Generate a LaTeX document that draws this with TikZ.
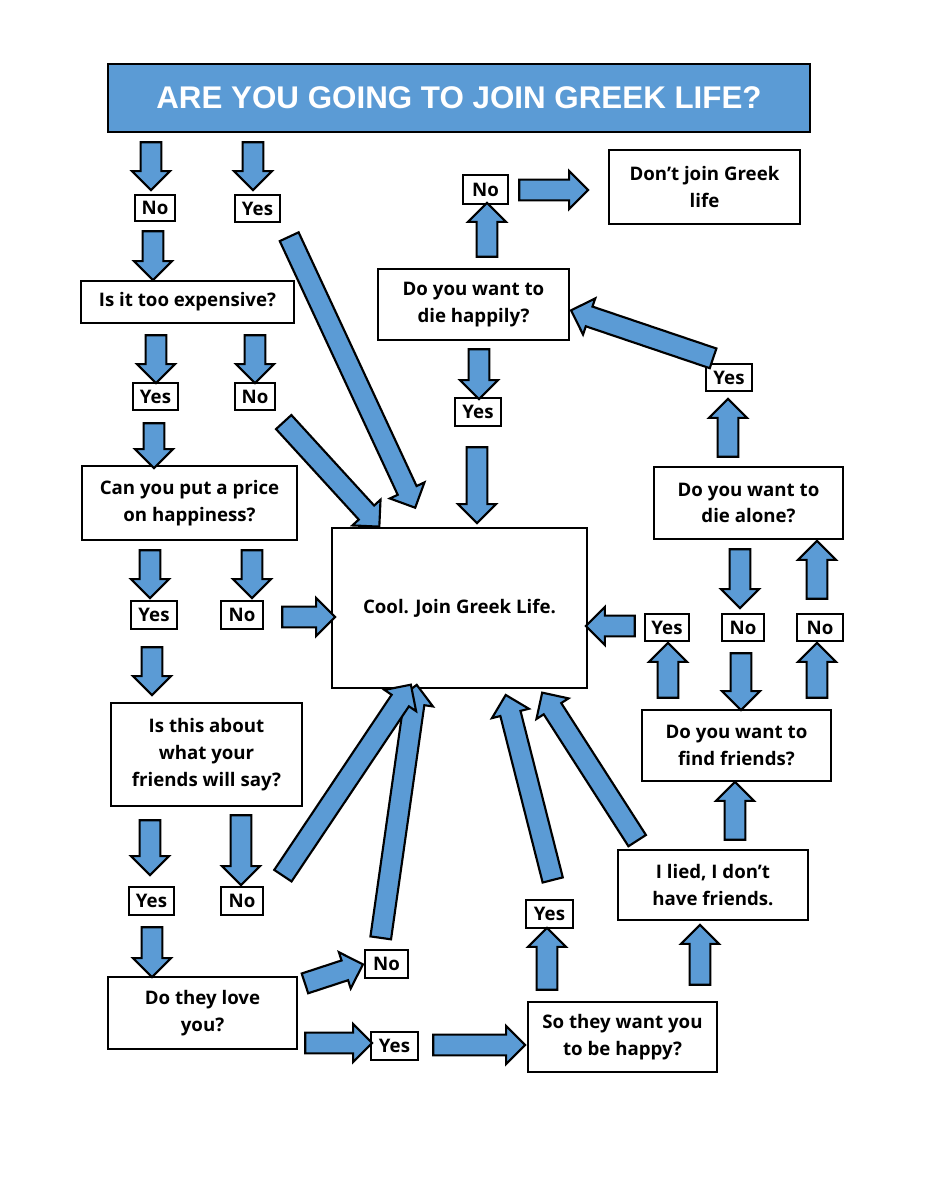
\documentclass[tikz,border=0pt]{standalone}
\usepackage{fontspec}
\setmainfont{Open Sans}
\newfontfamily\titlefont{Liberation Sans}
\usetikzlibrary{shapes.arrows,calc}
\definecolor{gblue}{HTML}{5B9BD5}
\tikzset{
  box/.style={draw=black,line width=2pt,fill=white,align=center,font=\bfseries\fontsize{14}{20}\selectfont,inner sep=1pt},
  barrow/.style={single arrow,draw=black,line width=1.6pt,fill=gblue,inner xsep=0pt,inner ysep=7pt,outer sep=0pt,single arrow head extend=6.5pt,single arrow head indent=0pt}
}
\newcommand\bx[6]{\node[box,minimum width={(#4-#2)*0.75pt},minimum height={(#5-#3)*0.75pt}] (#1) at ({(#2+#4)/2},{(#3+#5)/2}) {#6};}
\newcommand\ar[5]{\path let \p1=(#2,#3),\p2=(#4,#5),\n1={atan2(\y2-\y1,\x2-\x1)},\n2={veclen(\x2-\x1,\y2-\y1)} in node[barrow,rotate=\n1,minimum height=\n2] (#1) at ($(\p1)!0.5!(\p2)$) {};}
\begin{document}
\begin{tikzpicture}[x=0.75pt,y=-0.75pt]
\useasboundingbox[fill=white] (0,0) rectangle (927,1200);
\node[draw=black,line width=2pt,fill=gblue,text=white,font=\titlefont\bfseries\fontsize{23.5}{28}\selectfont,minimum width={702*0.75pt},minimum height={68*0.75pt}] (title) at (459,98) {ARE YOU GOING TO JOIN GREEK LIFE?};
\bx{n1}{135}{195}{175}{221}{No}
\bx{y1}{235}{195}{280}{222}{Yes}
\bx{exp}{81}{281}{294}{323}{Is it too expensive?}
\bx{y2}{133}{383}{178}{410}{Yes}
\bx{n2}{235}{383}{275}{410}{No}
\bx{price}{82}{466}{297}{540}{Can you put a price\\on happiness?}
\bx{y3}{131}{601}{177}{629}{Yes}
\bx{n3}{221}{601}{263}{629}{No}
\bx{cool}{332}{528}{587}{688}{Cool. Join Greek Life.}
\bx{say}{111}{703}{302}{806}{Is this about\\what your\\friends will say?}
\bx{y4}{129}{887}{174}{915}{Yes}
\bx{n4}{221}{887}{263}{915}{No}
\bx{love}{108}{977}{297}{1049}{Do they love\\you?}
\bx{n5}{365}{950}{408}{978}{No}
\bx{y5}{371}{1032}{418}{1060}{Yes}
\bx{happy}{528}{1002}{717}{1072}{So they want you\\to be happy?}
\bx{y6}{526}{900}{573}{928}{Yes}
\bx{lied}{618}{850}{808}{920}{I lied, I don't\\have friends.}
\bx{find}{642}{710}{831}{781}{Do you want to\\find friends?}
\bx{y7}{645}{614}{689}{641}{Yes}
\bx{n7}{722}{614}{764}{641}{No}
\bx{n8}{797}{614}{843}{641}{No}
\bx{alone}{654}{467}{843}{539}{Do you want to\\die alone?}
\bx{y8}{706}{364}{752}{391}{Yes}
\bx{dieh}{378}{269}{569}{340}{Do you want to\\die happily?}
\bx{y9}{455}{398}{501}{426}{Yes}
\bx{n9}{463}{175}{508}{204}{No}
\bx{dont}{609}{150}{800}{224}{Don't join Greek\\life}
\ar{a1}{151}{137}{151}{185}
\ar{a2}{253}{137}{253}{185}
\ar{a3}{153}{226}{153}{275}
\ar{a4}{287}{232}{413}{503}
\ar{a5}{156}{330}{156}{378}
\ar{a6}{255}{330}{255}{378}
\ar{a7}{154}{418}{154}{463}
\ar{a8}{280}{418}{376}{523}
\ar{a9}{150}{545}{150}{593}
\ar{a10}{252}{545}{252}{593}
\ar{a11}{277}{617}{330}{617}
\ar{a12}{152}{642}{152}{690}
\ar{a13}{477}{442}{477}{518}
\ar{a14}{479}{344}{479}{394}
\ar{a15}{487}{262}{487}{208}
\ar{a16}{514}{190}{583}{190}
\ar{a17}{718}{360}{576}{312}
\ar{a18}{728}{462}{728}{404}
\ar{a19}{740}{544}{740}{603}
\ar{a20}{817}{604}{817}{546}
\ar{a21}{640}{626}{591}{626}
\ar{a22}{668}{703}{668}{648}
\ar{a23}{741}{648}{741}{705}
\ar{a24}{817}{703}{817}{648}
\ar{a25}{735}{845}{735}{787}
\ar{a26}{700}{990}{700}{930}
\ar{a27}{547}{995}{547}{933}
\ar{a28}{554}{885}{507}{700}
\ar{a29}{640}{845}{545}{697}
\ar{a30}{380}{943}{416}{690}
\ar{a31}{280}{880}{408}{689}
\ar{a32}{241}{810}{241}{880}
\ar{a33}{150}{815}{150}{870}
\ar{a34}{152}{922}{152}{972}
\ar{a35}{300}{985}{358}{966}
\ar{a36}{300}{1043}{367}{1043}
\ar{a37}{428}{1045}{520}{1045}
\end{tikzpicture}
\end{document}
